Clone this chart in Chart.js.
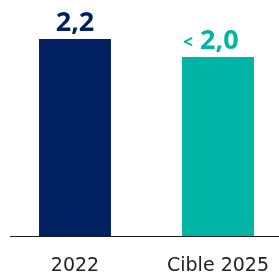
<!DOCTYPE html>
<html>
<head>
<meta charset="utf-8">
<script src="https://cdn.jsdelivr.net/npm/chart.js@4"></script>
<style>
	html, body { margin: 0; padding: 0; background: #fff; overflow: hidden; }
	#wrap { width: 300px; height: 275px; }
</style>
</head>
<body>
<div id="wrap"><canvas id="chart" width="300" height="275"></canvas></div>
<script>
const categories = ['2022', 'Cible 2025']
const values = [2.2, 2.0]
const value_prefixes = ['', '<']
const value_labels = ['2,2', '2,0']
const bar_colors = ['#01205F', '#00B5A6']

// draws the value above each bar and the base line
const value_labels_plugin = {
	id: 'value_labels',
	afterDatasetsDraw(chart) {
		const ctx = chart.ctx
		const meta = chart.getDatasetMeta(0)
		const y0 = chart.scales.y.getPixelForValue(0)
		ctx.save()
		ctx.strokeStyle = '#1a1a1a'
		ctx.lineWidth = 1.2
		ctx.beginPath()
		ctx.moveTo(10, y0 + 0.5)
		ctx.lineTo(chart.width, y0 + 0.5)
		ctx.stroke()

		meta.data.forEach((bar, i) => {
			const big = 'bold 27px "Open Sans"'
			const small = 'bold 17px "Open Sans"'
			ctx.font = big
			const w_main = ctx.measureText(value_labels[i]).width
			let w_pre = 0
			if (value_prefixes[i]) {
				ctx.font = small
				w_pre = ctx.measureText(value_prefixes[i]).width + 7
			}
			const total = w_pre + w_main
			let x = bar.x - total / 2 - (value_prefixes[i] ? 7 : 0)
			const y = bar.y - 8
			ctx.fillStyle = bar_colors[i]
			ctx.textBaseline = 'alphabetic'
			ctx.textAlign = 'left'
			if (value_prefixes[i]) {
				ctx.font = small
				ctx.fillText(value_prefixes[i], x, y - 1)
				x += w_pre
			}
			ctx.font = big
			ctx.fillText(value_labels[i], x, y)
		})
		ctx.restore()
	},
}

// eslint-disable-next-line
const chart = new Chart(document.getElementById('chart'), {
	type: 'bar',
	data: {
		labels: categories,
		datasets: [
			{
				data: values,
				backgroundColor: bar_colors,
				barPercentage: 0.503,
				categoryPercentage: 1,
			},
		],
	},
	options: {
		responsive: false,
		animation: false,
		layout: { padding: { top: 39, left: 3.5, right: 10.5, bottom: 0 } },
		plugins: {
			legend: { display: false },
			tooltip: { enabled: false },
		},
		scales: {
			x: {
				grid: { display: false, drawTicks: false },
				border: { display: false },
				afterFit(scale) {
					scale.height = 39
				},
				ticks: {
					color: '#222',
					padding: 21,
					font: { family: 'DejaVu Sans', size: 19, lineHeight: 1 },
				},
			},
			y: {
				display: false,
				min: 0,
				max: 2.2,
			},
		},
	},
	plugins: [value_labels_plugin],
})
</script>
</body>
</html>
